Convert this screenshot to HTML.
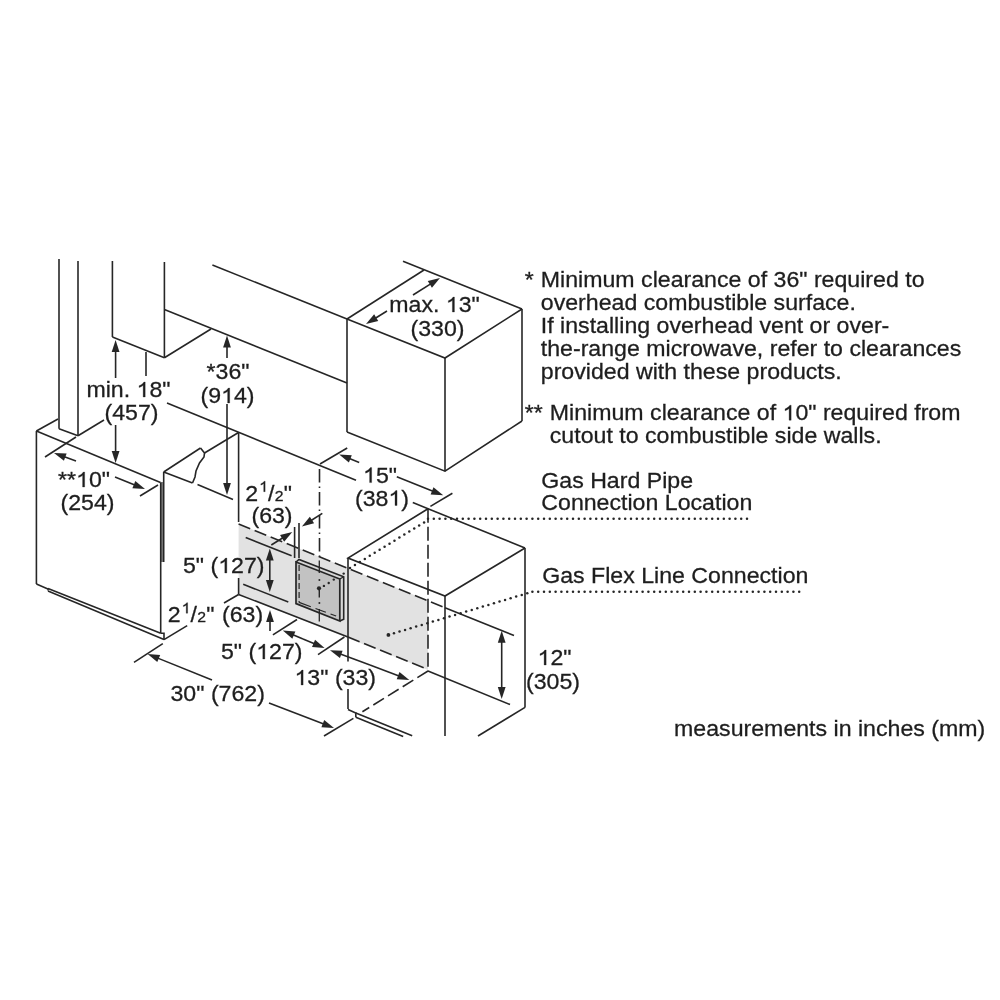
<!DOCTYPE html>
<html><head><meta charset="utf-8"><style>
html,body{margin:0;padding:0;background:#fff;}
svg{display:block;will-change:transform;}
text{font-family:"Liberation Sans",sans-serif;fill:#1e1e1e;stroke:#1e1e1e;stroke-width:0.3px;}
</style></head><body>
<svg width="1000" height="1000" viewBox="0 0 1000 1000">
<rect width="1000" height="1000" fill="#fff"/>
<polygon points="238.6,524 428,600.5 428,670 238.6,594.5" fill="#e2e2e2" stroke="none" stroke-width="0"/>
<polygon points="160.5,482 163.8,482 163.8,562 160.5,562" fill="#7d7d7d" stroke="none" stroke-width="0"/>
<line x1="59" y1="259" x2="59" y2="428.7" stroke="#262626" stroke-width="1.6" stroke-linecap="butt"/>
<line x1="78" y1="261" x2="78" y2="435.8" stroke="#262626" stroke-width="1.6" stroke-linecap="butt"/>
<line x1="59" y1="428.7" x2="78" y2="435.8" stroke="#262626" stroke-width="1.6" stroke-linecap="butt"/>
<line x1="78" y1="435.8" x2="104" y2="420" stroke="#262626" stroke-width="1.6" stroke-linecap="butt"/>
<line x1="112.4" y1="261" x2="112.4" y2="337" stroke="#262626" stroke-width="1.6" stroke-linecap="butt"/>
<line x1="164.4" y1="262" x2="164.4" y2="357.8" stroke="#262626" stroke-width="1.6" stroke-linecap="butt"/>
<line x1="112.4" y1="337" x2="164.4" y2="357.8" stroke="#262626" stroke-width="1.6" stroke-linecap="butt"/>
<line x1="164.4" y1="357.8" x2="211" y2="329" stroke="#262626" stroke-width="1.6" stroke-linecap="butt"/>
<line x1="164.4" y1="309.6" x2="347" y2="383" stroke="#262626" stroke-width="1.6" stroke-linecap="butt"/>
<line x1="212.4" y1="265" x2="347" y2="319" stroke="#262626" stroke-width="1.6" stroke-linecap="butt"/>
<polyline points="347,319 424,270" fill="none" stroke="#262626" stroke-width="1.6" stroke-linejoin="miter"/>
<line x1="403" y1="261.3" x2="522" y2="309" stroke="#262626" stroke-width="1.6" stroke-linecap="butt"/>
<polyline points="522,309 445,358 347,319" fill="none" stroke="#262626" stroke-width="1.6" stroke-linejoin="miter"/>
<line x1="347" y1="319" x2="347" y2="432" stroke="#262626" stroke-width="1.6" stroke-linecap="butt"/>
<line x1="445" y1="358" x2="445" y2="471.2" stroke="#262626" stroke-width="1.6" stroke-linecap="butt"/>
<line x1="522" y1="309" x2="522" y2="421" stroke="#262626" stroke-width="1.6" stroke-linecap="butt"/>
<polyline points="347,432 445,471.2 522,421" fill="none" stroke="#262626" stroke-width="1.6" stroke-linejoin="miter"/>
<line x1="387" y1="311" x2="375.35291661356644" y2="318.21009923922077" stroke="#262626" stroke-width="1.6" stroke-linecap="butt"/>
<polygon points="366,324 374.1503987632508,314.36771055252177 378.25596475725786,320.99977869668714" fill="#262626" stroke="none" stroke-width="0"/>
<line x1="413" y1="295" x2="430.6914387590127" y2="283.86094596654755" stroke="#262626" stroke-width="1.6" stroke-linecap="butt"/>
<polygon points="440,278 431.9231776706989,287.6940673125837 427.7672341671471,281.09345115988367" fill="#262626" stroke="none" stroke-width="0"/>
<line x1="167" y1="403" x2="356" y2="480.2" stroke="#262626" stroke-width="1.6" stroke-linecap="butt"/>
<line x1="412.8" y1="502.6" x2="525" y2="548" stroke="#262626" stroke-width="1.6" stroke-linecap="butt"/>
<polyline points="428,508.8 348,558 445,596 525,548" fill="none" stroke="#262626" stroke-width="1.6" stroke-linejoin="miter"/>
<line x1="430.4" y1="506.4" x2="452.4" y2="493.2" stroke="#262626" stroke-width="1.6" stroke-linecap="butt"/>
<line x1="348" y1="558" x2="348" y2="661.5" stroke="#262626" stroke-width="1.6" stroke-linecap="butt"/>
<line x1="348" y1="689" x2="348" y2="709" stroke="#262626" stroke-width="1.6" stroke-linecap="butt"/>
<line x1="445" y1="596" x2="445" y2="736" stroke="#262626" stroke-width="1.6" stroke-linecap="butt"/>
<line x1="525" y1="548" x2="525" y2="707.4" stroke="#262626" stroke-width="1.6" stroke-linecap="butt"/>
<line x1="525" y1="707.4" x2="478" y2="736" stroke="#262626" stroke-width="1.6" stroke-linecap="butt"/>
<line x1="428" y1="508.8" x2="428" y2="671" stroke="#262626" stroke-width="1.6" stroke-dasharray="14 4" stroke-linecap="butt"/>
<line x1="428" y1="671" x2="362.4" y2="711.8" stroke="#262626" stroke-width="1.6" stroke-dasharray="12.5 4.8" stroke-linecap="butt"/>
<line x1="428" y1="671" x2="510" y2="704.5" stroke="#262626" stroke-width="1.6" stroke-linecap="butt"/>
<line x1="238.6" y1="524" x2="445" y2="607.8" stroke="#262626" stroke-width="1.6" stroke-dasharray="12.5 4.8" stroke-linecap="butt"/>
<line x1="445" y1="607.8" x2="514" y2="635.5" stroke="#262626" stroke-width="1.6" stroke-linecap="butt"/>
<line x1="238.6" y1="594.5" x2="348" y2="637" stroke="#262626" stroke-width="1.6" stroke-linecap="butt"/>
<line x1="348" y1="637" x2="428" y2="669.5" stroke="#262626" stroke-width="1.6" stroke-dasharray="12.5 4.8" stroke-linecap="butt"/>
<polyline points="348,709.5 355.8,713 355.8,717.2" fill="none" stroke="#262626" stroke-width="1.6" stroke-linejoin="miter"/>
<line x1="355.8" y1="713" x2="412.2" y2="735.8" stroke="#262626" stroke-width="1.6" stroke-linecap="butt"/>
<line x1="355.8" y1="717.2" x2="403.2" y2="736.4" stroke="#262626" stroke-width="1.6" stroke-linecap="butt"/>
<line x1="501.7" y1="665" x2="501.7" y2="641.7" stroke="#262626" stroke-width="1.6" stroke-linecap="butt"/>
<polygon points="501.7,630.7 505.59999999999997,642.7 497.8,642.7" fill="#262626" stroke="none" stroke-width="0"/>
<line x1="501.7" y1="665" x2="501.7" y2="688.0" stroke="#262626" stroke-width="1.6" stroke-linecap="butt"/>
<polygon points="501.7,699 497.8,687.0 505.59999999999997,687.0" fill="#262626" stroke="none" stroke-width="0"/>
<line x1="36.4" y1="431" x2="36.4" y2="584" stroke="#262626" stroke-width="1.6" stroke-linecap="butt"/>
<line x1="36.4" y1="431" x2="58" y2="419" stroke="#262626" stroke-width="1.6" stroke-linecap="butt"/>
<line x1="36.4" y1="431" x2="160.5" y2="482.5" stroke="#262626" stroke-width="1.6" stroke-linecap="butt"/>
<line x1="160.7" y1="482.5" x2="160.7" y2="633.2" stroke="#262626" stroke-width="1.6" stroke-linecap="butt"/>
<polyline points="36.4,584 48,589 48,590.5" fill="none" stroke="#262626" stroke-width="1.6" stroke-linejoin="miter"/>
<line x1="48" y1="588.5" x2="160.7" y2="633.2" stroke="#262626" stroke-width="1.6" stroke-linecap="butt"/>
<polyline points="160.7,633.2 164,633.2 164,639.6" fill="none" stroke="#262626" stroke-width="1.6" stroke-linejoin="miter"/>
<line x1="48" y1="591" x2="164" y2="639.6" stroke="#262626" stroke-width="1.6" stroke-linecap="butt"/>
<line x1="164" y1="639.6" x2="187.2" y2="625.6" stroke="#262626" stroke-width="1.6" stroke-linecap="butt"/>
<line x1="45" y1="457" x2="76" y2="437" stroke="#262626" stroke-width="1.6" stroke-linecap="butt"/>
<line x1="76" y1="461" x2="64.3377276583728" y2="456.75917369395376" stroke="#262626" stroke-width="1.6" stroke-linecap="butt"/>
<polygon points="54,453 66.61031902789938,453.43572240543557 63.94472313582309,460.76611110864536" fill="#262626" stroke="none" stroke-width="0"/>
<line x1="115" y1="477" x2="134.78675640026214" y2="484.91470256010484" stroke="#262626" stroke-width="1.6" stroke-linecap="butt"/>
<polygon points="145,489 132.4098560715959,488.16437097820324 135.30670334715788,480.9222527892982" fill="#262626" stroke="none" stroke-width="0"/>
<line x1="140" y1="496" x2="158" y2="485" stroke="#262626" stroke-width="1.6" stroke-linecap="butt"/>
<line x1="115.6" y1="378" x2="115.6" y2="351.0" stroke="#262626" stroke-width="1.6" stroke-linecap="butt"/>
<polygon points="115.6,340 119.5,352.0 111.69999999999999,352.0" fill="#262626" stroke="none" stroke-width="0"/>
<line x1="115.6" y1="425" x2="115.6" y2="452.0" stroke="#262626" stroke-width="1.6" stroke-linecap="butt"/>
<polygon points="115.6,463 111.69999999999999,451.0 119.5,451.0" fill="#262626" stroke="none" stroke-width="0"/>
<line x1="146" y1="352" x2="146" y2="376" stroke="#262626" stroke-width="1.6" stroke-linecap="butt"/>
<line x1="163.7" y1="472" x2="163.7" y2="562" stroke="#262626" stroke-width="1.6" stroke-linecap="butt"/>
<line x1="163.7" y1="472" x2="200.5" y2="448" stroke="#262626" stroke-width="1.6" stroke-linecap="butt"/>
<polyline points="200.5,448 204.5,453 204,457 199.5,463 196,471 195,477 192.5,483" fill="none" stroke="#262626" stroke-width="1.6" stroke-linejoin="miter"/>
<line x1="163.7" y1="472" x2="192.5" y2="483" stroke="#262626" stroke-width="1.6" stroke-linecap="butt"/>
<line x1="204.5" y1="453" x2="238.5" y2="432.5" stroke="#262626" stroke-width="1.6" stroke-linecap="butt"/>
<line x1="197.5" y1="484.5" x2="233" y2="499.5" stroke="#262626" stroke-width="1.6" stroke-linecap="butt"/>
<line x1="238.6" y1="432.5" x2="238.6" y2="522" stroke="#262626" stroke-width="1.6" stroke-linecap="butt"/>
<line x1="238.6" y1="578" x2="238.6" y2="594.5" stroke="#262626" stroke-width="1.6" stroke-linecap="butt"/>
<line x1="238.6" y1="594.5" x2="224" y2="603" stroke="#262626" stroke-width="1.6" stroke-linecap="butt"/>
<line x1="227" y1="358" x2="227.0" y2="346.6" stroke="#262626" stroke-width="1.6" stroke-linecap="butt"/>
<polygon points="227,335.6 230.9,347.6 223.1,347.6" fill="#262626" stroke="none" stroke-width="0"/>
<line x1="227" y1="404" x2="227.0" y2="484.0" stroke="#262626" stroke-width="1.6" stroke-linecap="butt"/>
<polygon points="227,495 223.1,483.0 230.9,483.0" fill="#262626" stroke="none" stroke-width="0"/>
<line x1="322.3" y1="513.3" x2="311.1352717286737" y2="520.52423594027" stroke="#262626" stroke-width="1.6" stroke-linecap="butt"/>
<polygon points="301.9,526.5 309.85616190101246,516.7066610492194 314.09352187063917,523.2553082750061" fill="#262626" stroke="none" stroke-width="0"/>
<line x1="271.3" y1="545" x2="282.9470833864336" y2="537.7899007607793" stroke="#262626" stroke-width="1.6" stroke-linecap="butt"/>
<polygon points="292.3,532 284.1496012367492,541.6322894474782 280.04403524274215,535.000221303313" fill="#262626" stroke="none" stroke-width="0"/>
<line x1="294.6" y1="527" x2="294.6" y2="558" stroke="#262626" stroke-width="1.6" stroke-linecap="butt"/>
<line x1="299" y1="523" x2="299" y2="558" stroke="#262626" stroke-width="1.6" stroke-linecap="butt"/>
<line x1="319.5" y1="469" x2="319.5" y2="558" stroke="#262626" stroke-width="1.6" stroke-dasharray="13.5 4 1.5 4" stroke-linecap="butt"/>
<line x1="320" y1="464" x2="347.2" y2="448" stroke="#262626" stroke-width="1.6" stroke-linecap="butt"/>
<line x1="359.2" y1="462.4" x2="349.4132435997379" y2="458.48529743989513" stroke="#262626" stroke-width="1.6" stroke-linecap="butt"/>
<polygon points="339.2,454.4 351.7901439284041,455.23562902179674 348.89329665284214,462.47774721070175" fill="#262626" stroke="none" stroke-width="0"/>
<line x1="396.8" y1="476.8" x2="432.97464306345074" y2="491.14511707688564" stroke="#262626" stroke-width="1.6" stroke-linecap="butt"/>
<polygon points="443.2,495.2 430.60742485102395,494.40184517956084 433.48270546923226,487.15113753364415" fill="#262626" stroke="none" stroke-width="0"/>
<line x1="245.7" y1="537.6" x2="291.6" y2="555.8" stroke="#262626" stroke-width="1.6" stroke-linecap="butt"/>
<line x1="243.2" y1="584.3" x2="288.3" y2="601.9" stroke="#262626" stroke-width="1.6" stroke-linecap="butt"/>
<line x1="269.8" y1="570" x2="269.8" y2="559.5" stroke="#262626" stroke-width="1.6" stroke-linecap="butt"/>
<polygon points="269.8,548.5 273.7,560.5 265.90000000000003,560.5" fill="#262626" stroke="none" stroke-width="0"/>
<line x1="269.8" y1="570" x2="269.8" y2="581.0" stroke="#262626" stroke-width="1.6" stroke-linecap="butt"/>
<polygon points="269.8,592 265.90000000000003,580.0 273.7,580.0" fill="#262626" stroke="none" stroke-width="0"/>
<polygon points="296,562 339.8,579 339.8,621 296,603.6" fill="#c2c2c2" stroke="none" stroke-width="0"/>
<polygon points="296,562 299,559.5 343.7,576.8 343.7,619.2 339.8,621 339.8,579" fill="#d6d6d6" stroke="none" stroke-width="0"/>
<polygon points="296,562 339.8,579 339.8,621 296,603.6" fill="none" stroke="#262626" stroke-width="1.7" stroke-linejoin="miter"/>
<polyline points="296,562 299,559.5 343.7,576.8 343.7,619.2 339.8,621" fill="none" stroke="#262626" stroke-width="1.6" stroke-linejoin="miter"/>
<line x1="339.8" y1="579" x2="343.7" y2="576.8" stroke="#262626" stroke-width="1.3" stroke-linecap="butt"/>
<line x1="299.1" y1="565" x2="299.1" y2="602.4" stroke="#262626" stroke-width="1.2" stroke-dasharray="6 3" stroke-linecap="butt"/>
<line x1="299.1" y1="602.4" x2="339.8" y2="617.4" stroke="#262626" stroke-width="1.2" stroke-dasharray="12.5 5 11 5 6" stroke-linecap="butt"/>
<line x1="319.3" y1="560.5" x2="319.3" y2="573" stroke="#262626" stroke-width="1.3" stroke-linecap="butt"/>
<line x1="319.3" y1="588.6" x2="319.3" y2="597.6" stroke="#262626" stroke-width="1.4" stroke-linecap="butt"/>
<line x1="319.3" y1="609" x2="319.3" y2="621.5" stroke="#262626" stroke-width="1.3" stroke-linecap="butt"/>
<circle cx="319.4" cy="580" r="1.0" fill="#262626"/>
<circle cx="319.4" cy="603" r="1.0" fill="#262626"/>
<circle cx="319" cy="588.3" r="2.1" fill="#262626"/>
<circle cx="323.9" cy="585.9" r="1.2" fill="#262626"/>
<circle cx="328.7" cy="583" r="1.2" fill="#262626"/>
<circle cx="333.8" cy="579.6" r="1.2" fill="#262626"/>
<circle cx="343.7" cy="573.6" r="1.2" fill="#262626"/>
<line x1="270" y1="631" x2="270.0" y2="621.0" stroke="#262626" stroke-width="1.6" stroke-linecap="butt"/>
<polygon points="270,610 273.9,622.0 266.1,622.0" fill="#262626" stroke="none" stroke-width="0"/>
<line x1="272.9" y1="634.9" x2="297" y2="619.5" stroke="#262626" stroke-width="1.6" stroke-linecap="butt"/>
<line x1="303" y1="639" x2="292.9389336827252" y2="634.7663829853051" stroke="#262626" stroke-width="1.6" stroke-linecap="butt"/>
<polygon points="282.8,630.5 295.3732816213993,631.5595231328213 292.3480282318193,638.7489488351172" fill="#262626" stroke="none" stroke-width="0"/>
<line x1="303" y1="639" x2="314.4628944984722" y2="643.8292749970415" stroke="#262626" stroke-width="1.6" stroke-linecap="butt"/>
<polygon points="324.6,648.1 312.02717331546626,647.0350919473143 315.0555055902913,639.8469625916854" fill="#262626" stroke="none" stroke-width="0"/>
<line x1="318" y1="654.7" x2="344.4" y2="637" stroke="#262626" stroke-width="1.6" stroke-linecap="butt"/>
<line x1="370" y1="665" x2="340.3248557541798" y2="654.0943844896611" stroke="#262626" stroke-width="1.6" stroke-linecap="butt"/>
<polygon points="330,650.3 342.60876077816687,650.7786978576938 339.91819723095267,658.0999592106576" fill="#262626" stroke="none" stroke-width="0"/>
<line x1="370" y1="665" x2="399.023122513413" y2="676.0775276768751" stroke="#262626" stroke-width="1.6" stroke-linecap="butt"/>
<polygon points="409.3,680 396.698166190979,679.3645594836538 399.4795556564675,672.0773190840738" fill="#262626" stroke="none" stroke-width="0"/>
<line x1="134" y1="662.4" x2="162.8" y2="643.6" stroke="#262626" stroke-width="1.6" stroke-linecap="butt"/>
<line x1="212" y1="680" x2="157.80008318957442" y2="658.1180460082132" stroke="#262626" stroke-width="1.6" stroke-linecap="butt"/>
<polygon points="147.6,654 160.1873979733568,654.8760206962926 157.26732898571467,662.1088069579909" fill="#262626" stroke="none" stroke-width="0"/>
<line x1="269" y1="703" x2="323.73319833176635" y2="724.0512301276024" stroke="#262626" stroke-width="1.6" stroke-linecap="butt"/>
<polygon points="334,728 321.3998343162587,727.3322989124855 324.1998711348679,720.0522031841016" fill="#262626" stroke="none" stroke-width="0"/>
<line x1="324" y1="736" x2="353.4" y2="718.4" stroke="#262626" stroke-width="1.6" stroke-linecap="butt"/>
<circle cx="388.4" cy="634.9" r="1.9" fill="#262626"/>
<circle cx="388.40" cy="634.90" r="1.25" fill="#262626"/>
<circle cx="393.96" cy="633.23" r="1.25" fill="#262626"/>
<circle cx="399.51" cy="631.57" r="1.25" fill="#262626"/>
<circle cx="405.07" cy="629.90" r="1.25" fill="#262626"/>
<circle cx="410.62" cy="628.23" r="1.25" fill="#262626"/>
<circle cx="416.18" cy="626.57" r="1.25" fill="#262626"/>
<circle cx="421.73" cy="624.90" r="1.25" fill="#262626"/>
<circle cx="427.29" cy="623.23" r="1.25" fill="#262626"/>
<circle cx="432.84" cy="621.57" r="1.25" fill="#262626"/>
<circle cx="438.40" cy="619.90" r="1.25" fill="#262626"/>
<circle cx="443.95" cy="618.23" r="1.25" fill="#262626"/>
<circle cx="449.51" cy="616.57" r="1.25" fill="#262626"/>
<circle cx="455.06" cy="614.90" r="1.25" fill="#262626"/>
<circle cx="460.62" cy="613.23" r="1.25" fill="#262626"/>
<circle cx="466.18" cy="611.57" r="1.25" fill="#262626"/>
<circle cx="471.73" cy="609.90" r="1.25" fill="#262626"/>
<circle cx="477.29" cy="608.23" r="1.25" fill="#262626"/>
<circle cx="482.84" cy="606.57" r="1.25" fill="#262626"/>
<circle cx="488.40" cy="604.90" r="1.25" fill="#262626"/>
<circle cx="493.95" cy="603.23" r="1.25" fill="#262626"/>
<circle cx="499.51" cy="601.57" r="1.25" fill="#262626"/>
<circle cx="505.06" cy="599.90" r="1.25" fill="#262626"/>
<circle cx="510.62" cy="598.23" r="1.25" fill="#262626"/>
<circle cx="516.17" cy="596.57" r="1.25" fill="#262626"/>
<circle cx="521.73" cy="594.90" r="1.25" fill="#262626"/>
<circle cx="527.28" cy="593.23" r="1.25" fill="#262626"/>
<circle cx="532.40" cy="591.70" r="1.25" fill="#262626"/>
<circle cx="538.20" cy="591.70" r="1.25" fill="#262626"/>
<circle cx="544.00" cy="591.70" r="1.25" fill="#262626"/>
<circle cx="549.80" cy="591.70" r="1.25" fill="#262626"/>
<circle cx="555.60" cy="591.70" r="1.25" fill="#262626"/>
<circle cx="561.40" cy="591.70" r="1.25" fill="#262626"/>
<circle cx="567.20" cy="591.70" r="1.25" fill="#262626"/>
<circle cx="573.00" cy="591.70" r="1.25" fill="#262626"/>
<circle cx="578.80" cy="591.70" r="1.25" fill="#262626"/>
<circle cx="584.60" cy="591.70" r="1.25" fill="#262626"/>
<circle cx="590.40" cy="591.70" r="1.25" fill="#262626"/>
<circle cx="596.20" cy="591.70" r="1.25" fill="#262626"/>
<circle cx="602.00" cy="591.70" r="1.25" fill="#262626"/>
<circle cx="607.80" cy="591.70" r="1.25" fill="#262626"/>
<circle cx="613.60" cy="591.70" r="1.25" fill="#262626"/>
<circle cx="619.40" cy="591.70" r="1.25" fill="#262626"/>
<circle cx="625.20" cy="591.70" r="1.25" fill="#262626"/>
<circle cx="631.00" cy="591.70" r="1.25" fill="#262626"/>
<circle cx="636.80" cy="591.70" r="1.25" fill="#262626"/>
<circle cx="642.60" cy="591.70" r="1.25" fill="#262626"/>
<circle cx="648.40" cy="591.70" r="1.25" fill="#262626"/>
<circle cx="654.20" cy="591.70" r="1.25" fill="#262626"/>
<circle cx="660.00" cy="591.70" r="1.25" fill="#262626"/>
<circle cx="665.80" cy="591.70" r="1.25" fill="#262626"/>
<circle cx="671.60" cy="591.70" r="1.25" fill="#262626"/>
<circle cx="677.40" cy="591.70" r="1.25" fill="#262626"/>
<circle cx="683.20" cy="591.70" r="1.25" fill="#262626"/>
<circle cx="689.00" cy="591.70" r="1.25" fill="#262626"/>
<circle cx="694.80" cy="591.70" r="1.25" fill="#262626"/>
<circle cx="700.60" cy="591.70" r="1.25" fill="#262626"/>
<circle cx="706.40" cy="591.70" r="1.25" fill="#262626"/>
<circle cx="712.20" cy="591.70" r="1.25" fill="#262626"/>
<circle cx="718.00" cy="591.70" r="1.25" fill="#262626"/>
<circle cx="723.80" cy="591.70" r="1.25" fill="#262626"/>
<circle cx="729.60" cy="591.70" r="1.25" fill="#262626"/>
<circle cx="735.40" cy="591.70" r="1.25" fill="#262626"/>
<circle cx="741.20" cy="591.70" r="1.25" fill="#262626"/>
<circle cx="747.00" cy="591.70" r="1.25" fill="#262626"/>
<circle cx="752.80" cy="591.70" r="1.25" fill="#262626"/>
<circle cx="758.60" cy="591.70" r="1.25" fill="#262626"/>
<circle cx="764.40" cy="591.70" r="1.25" fill="#262626"/>
<circle cx="770.20" cy="591.70" r="1.25" fill="#262626"/>
<circle cx="776.00" cy="591.70" r="1.25" fill="#262626"/>
<circle cx="781.80" cy="591.70" r="1.25" fill="#262626"/>
<circle cx="787.60" cy="591.70" r="1.25" fill="#262626"/>
<circle cx="793.40" cy="591.70" r="1.25" fill="#262626"/>
<circle cx="799.20" cy="591.70" r="1.25" fill="#262626"/>
<circle cx="350.00" cy="568.00" r="1.25" fill="#262626"/>
<circle cx="354.94" cy="564.96" r="1.25" fill="#262626"/>
<circle cx="359.88" cy="561.92" r="1.25" fill="#262626"/>
<circle cx="364.82" cy="558.88" r="1.25" fill="#262626"/>
<circle cx="369.76" cy="555.84" r="1.25" fill="#262626"/>
<circle cx="374.70" cy="552.80" r="1.25" fill="#262626"/>
<circle cx="379.64" cy="549.76" r="1.25" fill="#262626"/>
<circle cx="384.58" cy="546.72" r="1.25" fill="#262626"/>
<circle cx="389.52" cy="543.68" r="1.25" fill="#262626"/>
<circle cx="394.46" cy="540.64" r="1.25" fill="#262626"/>
<circle cx="399.40" cy="537.60" r="1.25" fill="#262626"/>
<circle cx="404.34" cy="534.56" r="1.25" fill="#262626"/>
<circle cx="409.28" cy="531.52" r="1.25" fill="#262626"/>
<circle cx="414.22" cy="528.48" r="1.25" fill="#262626"/>
<circle cx="419.15" cy="525.44" r="1.25" fill="#262626"/>
<circle cx="424.09" cy="522.40" r="1.25" fill="#262626"/>
<circle cx="428.00" cy="518.80" r="1.25" fill="#262626"/>
<circle cx="433.80" cy="518.80" r="1.25" fill="#262626"/>
<circle cx="439.60" cy="518.80" r="1.25" fill="#262626"/>
<circle cx="445.40" cy="518.80" r="1.25" fill="#262626"/>
<circle cx="451.20" cy="518.80" r="1.25" fill="#262626"/>
<circle cx="457.00" cy="518.80" r="1.25" fill="#262626"/>
<circle cx="462.80" cy="518.80" r="1.25" fill="#262626"/>
<circle cx="468.60" cy="518.80" r="1.25" fill="#262626"/>
<circle cx="474.40" cy="518.80" r="1.25" fill="#262626"/>
<circle cx="480.20" cy="518.80" r="1.25" fill="#262626"/>
<circle cx="486.00" cy="518.80" r="1.25" fill="#262626"/>
<circle cx="491.80" cy="518.80" r="1.25" fill="#262626"/>
<circle cx="497.60" cy="518.80" r="1.25" fill="#262626"/>
<circle cx="503.40" cy="518.80" r="1.25" fill="#262626"/>
<circle cx="509.20" cy="518.80" r="1.25" fill="#262626"/>
<circle cx="515.00" cy="518.80" r="1.25" fill="#262626"/>
<circle cx="520.80" cy="518.80" r="1.25" fill="#262626"/>
<circle cx="526.60" cy="518.80" r="1.25" fill="#262626"/>
<circle cx="532.40" cy="518.80" r="1.25" fill="#262626"/>
<circle cx="538.20" cy="518.80" r="1.25" fill="#262626"/>
<circle cx="544.00" cy="518.80" r="1.25" fill="#262626"/>
<circle cx="549.80" cy="518.80" r="1.25" fill="#262626"/>
<circle cx="555.60" cy="518.80" r="1.25" fill="#262626"/>
<circle cx="561.40" cy="518.80" r="1.25" fill="#262626"/>
<circle cx="567.20" cy="518.80" r="1.25" fill="#262626"/>
<circle cx="573.00" cy="518.80" r="1.25" fill="#262626"/>
<circle cx="578.80" cy="518.80" r="1.25" fill="#262626"/>
<circle cx="584.60" cy="518.80" r="1.25" fill="#262626"/>
<circle cx="590.40" cy="518.80" r="1.25" fill="#262626"/>
<circle cx="596.20" cy="518.80" r="1.25" fill="#262626"/>
<circle cx="602.00" cy="518.80" r="1.25" fill="#262626"/>
<circle cx="607.80" cy="518.80" r="1.25" fill="#262626"/>
<circle cx="613.60" cy="518.80" r="1.25" fill="#262626"/>
<circle cx="619.40" cy="518.80" r="1.25" fill="#262626"/>
<circle cx="625.20" cy="518.80" r="1.25" fill="#262626"/>
<circle cx="631.00" cy="518.80" r="1.25" fill="#262626"/>
<circle cx="636.80" cy="518.80" r="1.25" fill="#262626"/>
<circle cx="642.60" cy="518.80" r="1.25" fill="#262626"/>
<circle cx="648.40" cy="518.80" r="1.25" fill="#262626"/>
<circle cx="654.20" cy="518.80" r="1.25" fill="#262626"/>
<circle cx="660.00" cy="518.80" r="1.25" fill="#262626"/>
<circle cx="665.80" cy="518.80" r="1.25" fill="#262626"/>
<circle cx="671.60" cy="518.80" r="1.25" fill="#262626"/>
<circle cx="677.40" cy="518.80" r="1.25" fill="#262626"/>
<circle cx="683.20" cy="518.80" r="1.25" fill="#262626"/>
<circle cx="689.00" cy="518.80" r="1.25" fill="#262626"/>
<circle cx="694.80" cy="518.80" r="1.25" fill="#262626"/>
<circle cx="700.60" cy="518.80" r="1.25" fill="#262626"/>
<circle cx="706.40" cy="518.80" r="1.25" fill="#262626"/>
<circle cx="712.20" cy="518.80" r="1.25" fill="#262626"/>
<circle cx="718.00" cy="518.80" r="1.25" fill="#262626"/>
<circle cx="723.80" cy="518.80" r="1.25" fill="#262626"/>
<circle cx="729.60" cy="518.80" r="1.25" fill="#262626"/>
<circle cx="735.40" cy="518.80" r="1.25" fill="#262626"/>
<circle cx="741.20" cy="518.80" r="1.25" fill="#262626"/>
<circle cx="747.00" cy="518.80" r="1.25" fill="#262626"/>
<text transform="translate(434.5,312) scale(1,0.94)" x="0" y="0" font-size="23.15" text-anchor="middle">max.  3"</text>
<text transform="translate(437.5,336) scale(1,0.94)" x="0" y="0" font-size="23.15" text-anchor="middle">(330)</text>
<text transform="translate(228,379) scale(1,0.94)" x="0" y="0" font-size="23.15" text-anchor="middle">*36"</text>
<text transform="translate(227.5,403) scale(1,0.94)" x="0" y="0" font-size="23.15" text-anchor="middle">(9 4)</text>
<text transform="translate(128.5,397) scale(1,0.94)" x="0" y="0" font-size="23.15" text-anchor="middle">min.  8"</text>
<text transform="translate(131.5,420) scale(1,0.94)" x="0" y="0" font-size="23.15" text-anchor="middle">(457)</text>
<text transform="translate(84,487) scale(1,0.94)" x="0" y="0" font-size="23.15" text-anchor="middle">** 0"</text>
<text transform="translate(87.5,510) scale(1,0.94)" x="0" y="0" font-size="23.15" text-anchor="middle">(254)</text>
<text transform="translate(245.3,500.5) scale(1,0.94)" x="0" y="0" font-size="23.15" text-anchor="start">2</text>
<text transform="translate(259.1,491.7) scale(1,0.94)" x="0" y="0" font-size="16.2" text-anchor="start"> </text>
<text transform="translate(268.0,500.5) scale(1,0.94)" x="0" y="0" font-size="23.15" text-anchor="start">/</text>
<text transform="translate(274.8,500.5) scale(1,0.94)" x="0" y="0" font-size="15.8" text-anchor="start">2</text>
<text transform="translate(283.7,500.5) scale(1,0.94)" x="0" y="0" font-size="23.15" text-anchor="start">"</text>
<text transform="translate(272,523) scale(1,0.94)" x="0" y="0" font-size="23.15" text-anchor="middle">(63)</text>
<text transform="translate(183,573) scale(1,0.94)" x="0" y="0" font-size="23.15" text-anchor="start">5" ( 27)</text>
<text transform="translate(167.8,622) scale(1,0.94)" x="0" y="0" font-size="23.15" text-anchor="start">2</text>
<text transform="translate(181.6,613.2) scale(1,0.94)" x="0" y="0" font-size="16.2" text-anchor="start"> </text>
<text transform="translate(190.5,622) scale(1,0.94)" x="0" y="0" font-size="23.15" text-anchor="start">/</text>
<text transform="translate(197.3,622) scale(1,0.94)" x="0" y="0" font-size="15.8" text-anchor="start">2</text>
<text transform="translate(206.2,622) scale(1,0.94)" x="0" y="0" font-size="23.15" text-anchor="start">"</text>
<text transform="translate(222,622) scale(1,0.94)" x="0" y="0" font-size="23.15" text-anchor="start">(63)</text>
<text transform="translate(221,659) scale(1,0.94)" x="0" y="0" font-size="23.15" text-anchor="start">5" ( 27)</text>
<text transform="translate(294.5,685) scale(1,0.94)" x="0" y="0" font-size="23.15" text-anchor="start"> 3" (33)</text>
<text transform="translate(170.5,701) scale(1,0.94)" x="0" y="0" font-size="23.15" text-anchor="start">30" (762)</text>
<text transform="translate(380,482.6) scale(1,0.94)" x="0" y="0" font-size="23.15" text-anchor="middle"> 5"</text>
<text transform="translate(382,505.5) scale(1,0.94)" x="0" y="0" font-size="23.15" text-anchor="middle">(38 )</text>
<text transform="translate(554.5,665) scale(1,0.94)" x="0" y="0" font-size="23.15" text-anchor="middle"> 2"</text>
<text transform="translate(553,689) scale(1,0.94)" x="0" y="0" font-size="23.15" text-anchor="middle">(305)</text>
<text transform="translate(524.8,287.2) scale(1,0.94)" x="0" y="0" font-size="23.15" text-anchor="start">*</text>
<text transform="translate(540.8,287.2) scale(1,0.94)" x="0" y="0" font-size="23.15" text-anchor="start">Minimum clearance of 36" required to</text>
<text transform="translate(540.8,310.2) scale(1,0.94)" x="0" y="0" font-size="23.15" text-anchor="start">overhead combustible surface.</text>
<text transform="translate(540.8,333.2) scale(1,0.94)" x="0" y="0" font-size="23.15" text-anchor="start">If installing overhead vent or over-</text>
<text transform="translate(540.8,356.2) scale(1,0.94)" x="0" y="0" font-size="23.15" text-anchor="start">the-range microwave, refer to clearances</text>
<text transform="translate(540.8,379.2) scale(1,0.94)" x="0" y="0" font-size="23.15" text-anchor="start">provided with these products.</text>
<text transform="translate(524.8,420.2) scale(1,0.94)" x="0" y="0" font-size="23.15" text-anchor="start">**</text>
<text transform="translate(549.8,420.2) scale(1,0.94)" x="0" y="0" font-size="23.15" text-anchor="start">Minimum clearance of  0" required from</text>
<text transform="translate(549.8,443.2) scale(1,0.94)" x="0" y="0" font-size="23.15" text-anchor="start">cutout to combustible side walls.</text>
<text transform="translate(541.3,487.7) scale(1,0.94)" x="0" y="0" font-size="23.15" text-anchor="start">Gas Hard Pipe</text>
<text transform="translate(541.3,510.2) scale(1,0.94)" x="0" y="0" font-size="23.15" text-anchor="start">Connection Location</text>
<text transform="translate(542.2,583.2) scale(1,0.94)" x="0" y="0" font-size="23.15" text-anchor="start">Gas Flex Line Connection</text>
<text transform="translate(674.1,735.7) scale(1,0.94)" x="0" y="0" font-size="23.15" text-anchor="start">measurements in inches (mm)</text>
<path d="M763,0 L583,0 L583,1100 C520,1040 440,985 340,935 C290,912 250,900 223,890 L223,1062 C320,1102 420,1162 500,1232 C580,1302 630,1372 655,1409 L763,1409 Z" transform="translate(445.80,312.00) scale(0.01130,-0.01063)" fill="#1e1e1e" stroke="#1e1e1e" stroke-width="26.5"/>
<path d="M763,0 L583,0 L583,1100 C520,1040 440,985 340,935 C290,912 250,900 223,890 L223,1062 C320,1102 420,1162 500,1232 C580,1302 630,1372 655,1409 L763,1409 Z" transform="translate(221.05,403.00) scale(0.01130,-0.01063)" fill="#1e1e1e" stroke="#1e1e1e" stroke-width="26.5"/>
<path d="M763,0 L583,0 L583,1100 C520,1040 440,985 340,935 C290,912 250,900 223,890 L223,1062 C320,1102 420,1162 500,1232 C580,1302 630,1372 655,1409 L763,1409 Z" transform="translate(136.57,397.00) scale(0.01130,-0.01063)" fill="#1e1e1e" stroke="#1e1e1e" stroke-width="26.5"/>
<path d="M763,0 L583,0 L583,1100 C520,1040 440,985 340,935 C290,912 250,900 223,890 L223,1062 C320,1102 420,1162 500,1232 C580,1302 630,1372 655,1409 L763,1409 Z" transform="translate(76.02,487.00) scale(0.01130,-0.01063)" fill="#1e1e1e" stroke="#1e1e1e" stroke-width="26.5"/>
<path d="M763,0 L583,0 L583,1100 C520,1040 440,985 340,935 C290,912 250,900 223,890 L223,1062 C320,1102 420,1162 500,1232 C580,1302 630,1372 655,1409 L763,1409 Z" transform="translate(259.10,491.70) scale(0.00791,-0.00744)" fill="#1e1e1e" stroke="#1e1e1e" stroke-width="37.9"/>
<path d="M763,0 L583,0 L583,1100 C520,1040 440,985 340,935 C290,912 250,900 223,890 L223,1062 C320,1102 420,1162 500,1232 C580,1302 630,1372 655,1409 L763,1409 Z" transform="translate(218.21,573.00) scale(0.01130,-0.01063)" fill="#1e1e1e" stroke="#1e1e1e" stroke-width="26.5"/>
<path d="M763,0 L583,0 L583,1100 C520,1040 440,985 340,935 C290,912 250,900 223,890 L223,1062 C320,1102 420,1162 500,1232 C580,1302 630,1372 655,1409 L763,1409 Z" transform="translate(181.60,613.20) scale(0.00791,-0.00744)" fill="#1e1e1e" stroke="#1e1e1e" stroke-width="37.9"/>
<path d="M763,0 L583,0 L583,1100 C520,1040 440,985 340,935 C290,912 250,900 223,890 L223,1062 C320,1102 420,1162 500,1232 C580,1302 630,1372 655,1409 L763,1409 Z" transform="translate(256.21,659.00) scale(0.01130,-0.01063)" fill="#1e1e1e" stroke="#1e1e1e" stroke-width="26.5"/>
<path d="M763,0 L583,0 L583,1100 C520,1040 440,985 340,935 C290,912 250,900 223,890 L223,1062 C320,1102 420,1162 500,1232 C580,1302 630,1372 655,1409 L763,1409 Z" transform="translate(294.50,685.00) scale(0.01130,-0.01063)" fill="#1e1e1e" stroke="#1e1e1e" stroke-width="26.5"/>
<path d="M763,0 L583,0 L583,1100 C520,1040 440,985 340,935 C290,912 250,900 223,890 L223,1062 C320,1102 420,1162 500,1232 C580,1302 630,1372 655,1409 L763,1409 Z" transform="translate(363.02,482.60) scale(0.01130,-0.01063)" fill="#1e1e1e" stroke="#1e1e1e" stroke-width="26.5"/>
<path d="M763,0 L583,0 L583,1100 C520,1040 440,985 340,935 C290,912 250,900 223,890 L223,1062 C320,1102 420,1162 500,1232 C580,1302 630,1372 655,1409 L763,1409 Z" transform="translate(388.42,505.50) scale(0.01130,-0.01063)" fill="#1e1e1e" stroke="#1e1e1e" stroke-width="26.5"/>
<path d="M763,0 L583,0 L583,1100 C520,1040 440,985 340,935 C290,912 250,900 223,890 L223,1062 C320,1102 420,1162 500,1232 C580,1302 630,1372 655,1409 L763,1409 Z" transform="translate(537.52,665.00) scale(0.01130,-0.01063)" fill="#1e1e1e" stroke="#1e1e1e" stroke-width="26.5"/>
<path d="M763,0 L583,0 L583,1100 C520,1040 440,985 340,935 C290,912 250,900 223,890 L223,1062 C320,1102 420,1162 500,1232 C580,1302 630,1372 655,1409 L763,1409 Z" transform="translate(782.52,420.20) scale(0.01130,-0.01063)" fill="#1e1e1e" stroke="#1e1e1e" stroke-width="26.5"/>
</svg></body></html>
